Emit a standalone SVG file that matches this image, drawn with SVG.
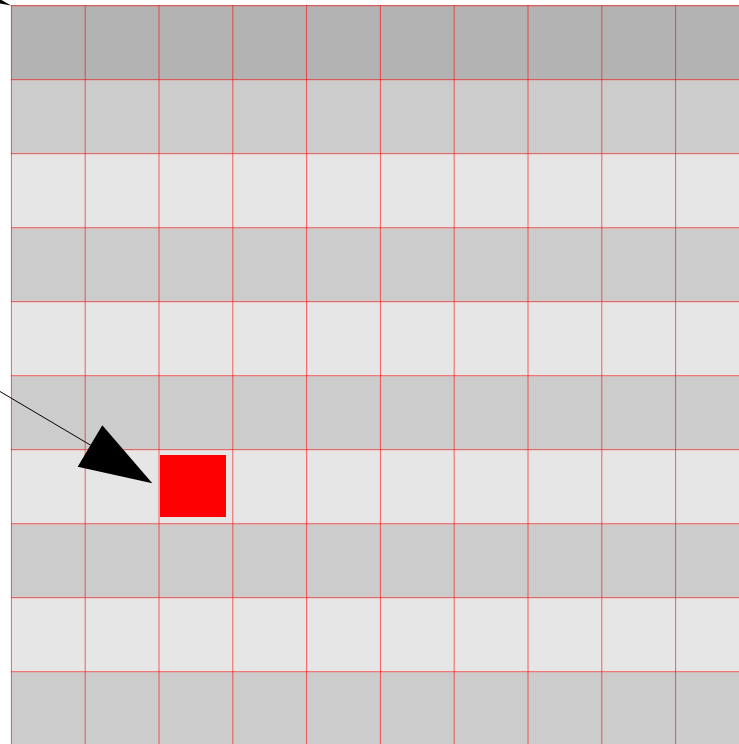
<svg xmlns="http://www.w3.org/2000/svg" width="739" height="744" viewBox="0 0 739 744">
<style>
.r0{fill:#b3b3b3}.r1{fill:#cccccc}.r2{fill:#e6e6e6}
#rows rect{shape-rendering:crispEdges}
.gl{stroke:#ff0000;stroke-opacity:0.6;stroke-width:1;fill:none}
</style>
<rect x="0" y="0" width="739" height="744" fill="#ffffff"/>
<g id="rows">
<rect class="r0" x="11" y="5" width="740" height="75"/>
<rect class="r1" x="11" y="80" width="740" height="74"/>
<rect class="r2" x="11" y="154" width="740" height="74"/>
<rect class="r1" x="11" y="228" width="740" height="74"/>
<rect class="r2" x="11" y="302" width="740" height="74"/>
<rect class="r1" x="11" y="376" width="740" height="74"/>
<rect class="r2" x="11" y="450" width="740" height="74"/>
<rect class="r1" x="11" y="524" width="740" height="74"/>
<rect class="r2" x="11" y="598" width="740" height="74"/>
<rect class="r1" x="11" y="672" width="740" height="74"/>
</g>
<g id="grid">
<path class="gl" d="M11.4 5.2V744M85.2 5.2V744M159 5.2V744M232.8 5.2V744M306.6 5.2V744M380.4 5.2V744M454.2 5.2V744M528 5.2V744M601.8 5.2V744M675.6 5.2V744M10.9 5.7H739M10.9 79.7H739M10.9 153.7H739M10.9 227.7H739M10.9 301.7H739M10.9 375.7H739M10.9 449.7H739M10.9 523.7H739M10.9 597.7H739M10.9 671.7H739"/>
</g>
<g id="target">
<rect x="160" y="455" width="66" height="62" fill="#ff0000"/>
</g>
<g id="connectors">
<polygon points="-2,-2 11,5.5 -2,3" fill="#000000"/>
<line x1="0" y1="391.5" x2="92" y2="446" stroke="#000000" stroke-width="1"/>
<polygon points="102.3,425.3 152.3,483.3 77.7,466.7" fill="#000000"/>
</g>
</svg>
